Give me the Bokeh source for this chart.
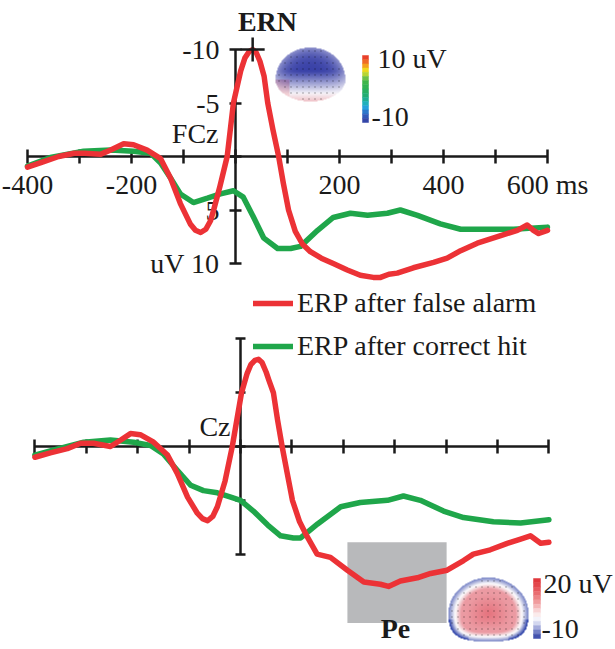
import numpy as np
from bokeh.plotting import figure
from bokeh.models import Range1d, LinearAxis, FixedTicker, Legend, LegendItem
from bokeh.layouts import column
from bokeh.core.properties import value
from bokeh.embed import file_html
from bokeh.resources import INLINE

# ---------------- data (ms, uV; negative plotted up) ----------------
fcz_false_t = [-400, -370, -340, -310, -290, -260, -240, -215, -196, -170, -144, -125, -106, -87,
               -77, -67, -57, -48, -42, -30, -16, -4, 10, 18, 26, 33, 40, 47, 55, 62, 72, 83, 92,
               102, 115, 129, 144, 165, 188, 215, 240, 265, 279, 295, 311, 342, 381, 407, 433,
               465, 510, 542, 561, 573, 583, 600]
fcz_false_v = [1.0, 0.5, 0.0, -0.3, -0.3, -0.2, -0.6, -1.2, -1.1, -0.6, 0.2, 2.0, 4.4, 6.3,
               6.9, 7.1, 6.8, 6.0, 5.0, 2.8, 0.0, -5.0, -8.0, -9.2, -9.8, -10.0, -9.7, -8.9,
               -7.5, -5.0, -2.5, 0.0, 2.5, 5.0, 7.0, 8.2, 8.9, 9.5, 10.0, 10.6, 11.1, 11.3, 11.3,
               11.0, 10.9, 10.4, 9.9, 9.5, 8.8, 8.1, 7.4, 6.9, 6.4, 6.9, 7.2, 6.9]

fcz_hit_t = [-400, -356, -292, -240, -196, -163, -144, -125, -106, -81, -54, -29, -4, 15, 35, 54,
             81, 106, 125, 158, 188, 221, 254, 292, 317, 350, 394, 433, 477, 535, 600]
fcz_hit_v = [0.9, 0.1, -0.5, -0.6, -0.5, -0.3, 0.6, 2.0, 3.5, 4.3, 3.9, 3.5, 3.2, 3.8, 5.7, 7.6,
             8.6, 8.6, 8.4, 6.9, 5.7, 5.3, 5.5, 5.3, 5.0, 5.5, 6.3, 6.8, 6.8, 6.8, 6.6]

cz_false_t = [-400, -370, -337, -311, -286, -253, -233, -214, -195, -169, -142, -123, -103, -84,
              -74, -64, -54, -45, -30, -16, 2, 13, 20, 28, 35, 42, 50, 55, 64, 72, 81, 91, 101,
              115, 130, 149, 175, 208, 240, 272, 288, 311, 344, 370, 402, 434, 453, 486, 519,
              545, 564, 584, 600]
cz_false_v = [1.0, 0.6, 0.2, -0.3, -0.3, 0.0, -0.6, -1.2, -1.1, -0.4, 0.8, 2.5, 4.7, 6.2,
              6.7, 6.9, 6.5, 5.6, 3.2, 0.0, -5.0, -6.8, -7.6, -8.0, -8.1, -7.8, -6.9, -6.2,
              -5.0, -2.5, 0.0, 2.5, 5.0, 7.0, 8.4, 10.0, 10.3, 11.5, 12.6, 12.8, 13.0, 12.5,
              12.2, 11.8, 11.5, 10.6, 10.0, 9.6, 9.0, 8.6, 8.3, 9.0, 8.9]

cz_hit_t = [-400, -370, -305, -253, -208, -175, -150, -123, -97, -72, -45, -19, 0, 25, 53, 78,
            103, 117, 150, 195, 233, 286, 317, 350, 395, 434, 492, 545, 600]
cz_hit_v = [0.8, 0.4, -0.4, -0.6, -0.4, -0.1, 0.7, 2.2, 3.6, 4.1, 4.3, 4.7, 5.0, 6.0, 7.3, 8.3,
            8.5, 8.5, 7.2, 5.6, 5.2, 5.0, 4.6, 5.0, 6.0, 6.6, 7.0, 7.1, 6.8]

x_ticks = [-400, -300, -200, -100, 0, 100, 200, 300, 400, 500, 600]
x_tick_labels = ["-400", "", "-200", "", "", "", "200", "", "400", "", "600 ms"]
y_ticks = [-10, -5, 0, 5, 10]
y_tick_labels = ["-10", "-5", "", "5", "uV 10"]

ern_peak = (33, -10)          # marked ERN peak
pe_window = (208, 401)        # ms
pe_box_amp = (8.9, 16.4)

legend_labels = ["ERP after false alarm", "ERP after correct hit"]
top_cbar_labels = ["10 uV", "-10"]
bottom_cbar_labels = ["20 uV", "-10"]

top_cbar_colors = ["#e8402a", "#ef6a24", "#f4a01b", "#efd91c", "#b8d535", "#6cc04a", "#3db54a",
                   "#30b253", "#28af60", "#22ae72", "#1fae92", "#20b0bc", "#26a0dc", "#2c78cc",
                   "#3158b8", "#3446a8"]
bottom_cbar_colors = ["#e0383d", "#e3474c", "#e6595d", "#e96d70", "#ec8486", "#f09c9e",
                      "#f4b7b8", "#f8d3d4", "#fbebeb", "#f3f3fa", "#d3d7ef", "#a5acdc",
                      "#7480c6", "#4352ae"]

RED = "#EC3236"
GREEN = "#1FA64A"
INK = "#1a1a1a"
SERIF = "Liberation Serif"
TXT_DY = 9  # px correction for text baseline placement


# ---------------- head maps (decorative images) ----------------
def head_image(h, w, cy, ry_top, ry_bot, p_bot, colour_fn):
    img = np.zeros((h, w), dtype=np.uint32)
    view = img.view(dtype=np.uint8).reshape((h, w, 4))
    cx = w / 2.0
    for i in range(h):
        for j in range(w):
            dx = (j + 0.5 - cx) / cx
            if i + 0.5 < cy:
                dy = (i + 0.5 - cy) / ry_top
                r = (abs(dx) ** 2 + abs(dy) ** 2) ** 0.5
            else:
                dy = (i + 0.5 - cy) / ry_bot
                r = (abs(dx) ** p_bot + abs(dy) ** p_bot) ** (1.0 / p_bot)
            if r > 1.0:
                continue
            rgb = colour_fn(dx, dy, r, (i + 0.5) / h)
            if i % 6 == 3 and j % 6 == 3 and r < 0.95:
                rgb = tuple(int(c * 0.35) for c in rgb)
            view[i, j, 0], view[i, j, 1], view[i, j, 2] = rgb
            view[i, j, 3] = 255
    return img


def mix(cols_w):
    out = [0.0, 0.0, 0.0]
    for col, wgt in cols_w:
        for k in range(3):
            out[k] += col[k] * wgt
    return tuple(int(max(0, min(255, c))) for c in out)


def top_head_colour(dx, dy, r, yy):
    blue = (58, 66, 168)
    pink = (236, 170, 176)
    white = (248, 246, 250)
    bw = min(1.0, max(0.0, (0.86 - yy) / 0.42)) * (1 - 0.45 * r ** 4)
    pw = min(1.0, max(0.0, (yy - 0.84) / 0.16)) * 0.7
    if dx < -0.6 and yy > 0.6:
        pw = max(pw, 0.5)
    ww = max(0.0, 1 - bw - pw)
    return mix([(blue, bw), (pink, pw), (white, ww)])


def bottom_head_colour(dx, dy, r, yy):
    red = (226, 92, 104)
    blue = (52, 72, 172)
    white = (250, 248, 250)
    pw = min(1.0, max(0.0, (0.82 - r) / 0.14)) * (0.6 + 0.25 * max(0.0, 1 - r / 0.55))
    side = 1.0 if (dy > 0.2 and abs(dx) > 0.5) else 0.6
    bw = min(1.0, max(0.0, (r - 0.84) / 0.14)) * side
    ww = max(0.0, 1 - pw - bw)
    return mix([(red, pw), (blue, bw), (white, ww)])


top_head = head_image(54, 70, 32, 32.0, 22.0, 2.0, top_head_colour)
bottom_head = head_image(64, 80, 36, 36.0, 28.0, 3.0, bottom_head_colour)


# ---------------- helpers ----------------
def make_axes(p, label_x, label_y, xin, xout, yin, yout, ystand):
    xa = LinearAxis(fixed_location=0, ticker=FixedTicker(ticks=x_ticks), bounds=(-400, 600),
                    axis_line_width=2.5, axis_line_color=INK,
                    major_tick_line_width=2.5, major_tick_line_color=INK,
                    major_tick_in=xin, major_tick_out=xout, minor_tick_line_color=None,
                    major_label_overrides={t: (lab if label_x else "") for t, lab in zip(x_ticks, x_tick_labels)},
                    major_label_text_font=SERIF, major_label_text_font_size="28px",
                    major_label_text_color=INK, major_label_standoff=5, level="underlay")
    ya = LinearAxis(fixed_location=0, ticker=FixedTicker(ticks=y_ticks), bounds=(-10, 10),
                    axis_line_width=2.5, axis_line_color=INK,
                    major_tick_line_width=2.5, major_tick_line_color=INK,
                    major_tick_in=yin, major_tick_out=yout, minor_tick_line_color=None,
                    major_label_overrides={t: (lab if label_y else "") for t, lab in zip(y_ticks, y_tick_labels)},
                    major_label_text_font=SERIF, major_label_text_font_size="28px",
                    major_label_text_color=INK, major_label_standoff=ystand,
                    major_label_orientation="horizontal", level="underlay")
    p.add_layout(xa, "below")
    p.add_layout(ya, "left")


def base_fig(h, xr, yr):
    p = figure(width=615, height=h, x_range=Range1d(*xr), y_range=Range1d(*yr),
               x_axis_type=None, y_axis_type=None, output_backend="svg",
               toolbar_location=None, min_border=0, outline_line_color=None,
               background_fill_color="white", border_fill_color="white")
    return p


def colorbar(p, left, right, top, bottom, colours):
    n = len(colours)
    step = (bottom - top) / n
    tops = [top + k * step for k in range(n)]
    bots = [top + (k + 1) * step for k in range(n)]
    p.quad(left=[left] * n, right=[right] * n, top=tops, bottom=bots,
           fill_color=colours, line_color=colours, line_width=0.5)


def label(p, xs, ys, texts, align="left", bold=False):
    p.text(x=xs, y=ys, text=texts, text_font=value(SERIF), text_font_size="28px",
           text_font_style="bold" if bold else "normal", text_color=INK,
           text_baseline="alphabetic", text_align=align)


# ---------------- top panel (FCz) ----------------
# px mapping: 0 ms at x=235, 0.52 px/ms ; 0 uV at y=156, 10.7 px/uV (flipped axis)
def tx(px):
    return (px - 235) / 0.52


def ty(py):
    return (py - 156) / 10.7


top = base_fig(286, (tx(0), tx(615)), (ty(286), ty(0)))
make_axes(top, True, True, 7, 7, 6, 6, 10)

top.image_rgba(image=[top_head], x=tx(275), y=ty(47), dw=70 / 0.52, dh=54 / 10.7,
               anchor="bottom_left", origin="bottom_left")
colorbar(top, tx(362), tx(368), ty(55), ty(122), top_cbar_colors)
label(top, [tx(377), tx(371)], [ty(67 - TXT_DY), ty(125 - TXT_DY)], top_cbar_labels)

top.line(fcz_hit_t, fcz_hit_v, line_color=GREEN, line_width=5.5, line_join="round", line_cap="round")
top.line(fcz_false_t, fcz_false_v, line_color=RED, line_width=5.5, line_join="round", line_cap="round")

top.scatter([ern_peak[0]], [ern_peak[1]], marker="cross", size=24, line_width=2.5, line_color=INK)
label(top, [tx(267)], [ty(30 - TXT_DY)], ["ERN"], align="center", bold=True)
label(top, [tx(218)], [ty(142 - TXT_DY)], ["FCz"], align="right")


# ---------------- bottom panel (Cz) ----------------
# px mapping: 0 ms at x=240, 0.514 px/ms ; 0 uV at local y=160, 10.76 px/uV (flipped axis)
def bx(px):
    return (px - 240) / 0.514


def by(py):
    return (py - 160) / 10.76


bot = base_fig(363, (bx(0), bx(615)), (by(363), by(0)))
make_axes(bot, False, False, 7, 7, 5, 5, 10)

bot.quad(left=[pe_window[0]], right=[pe_window[1]], top=[pe_box_amp[0]], bottom=[pe_box_amp[1]],
         fill_color="#b8b9bb", line_color=None)
bot.image_rgba(image=[bottom_head], x=bx(448), y=by(291), dw=80 / 0.514, dh=64 / 10.76,
               anchor="bottom_left", origin="bottom_left")
colorbar(bot, bx(533), bx(540), by(292), by(352), bottom_cbar_colors)
label(bot, [bx(543), bx(541)], [by(306 - TXT_DY), by(351 - TXT_DY)], bottom_cbar_labels)

g_b = bot.line(cz_hit_t, cz_hit_v, line_color=GREEN, line_width=5.5, line_join="round", line_cap="round")
r_b = bot.line(cz_false_t, cz_false_v, line_color=RED, line_width=5.5, line_join="round", line_cap="round")

label(bot, [bx(395)], [by(351 - TXT_DY)], ["Pe"], align="center", bold=True)
label(bot, [bx(230)], [by(149 - TXT_DY)], ["Cz"], align="right")

legend = Legend(items=[LegendItem(label=legend_labels[0], renderers=[r_b]),
                       LegendItem(label=legend_labels[1], renderers=[g_b])],
                location=(253, 287), orientation="vertical",
                glyph_width=40, glyph_height=28, label_standoff=4, spacing=11,
                padding=0, margin=0, border_line_alpha=0, background_fill_alpha=0,
                label_text_font=SERIF, label_text_font_size="28px", label_text_color=INK)
bot.add_layout(legend)

layout = column(top, bot, spacing=0)
open("out.html", "w").write(file_html(layout, INLINE))
